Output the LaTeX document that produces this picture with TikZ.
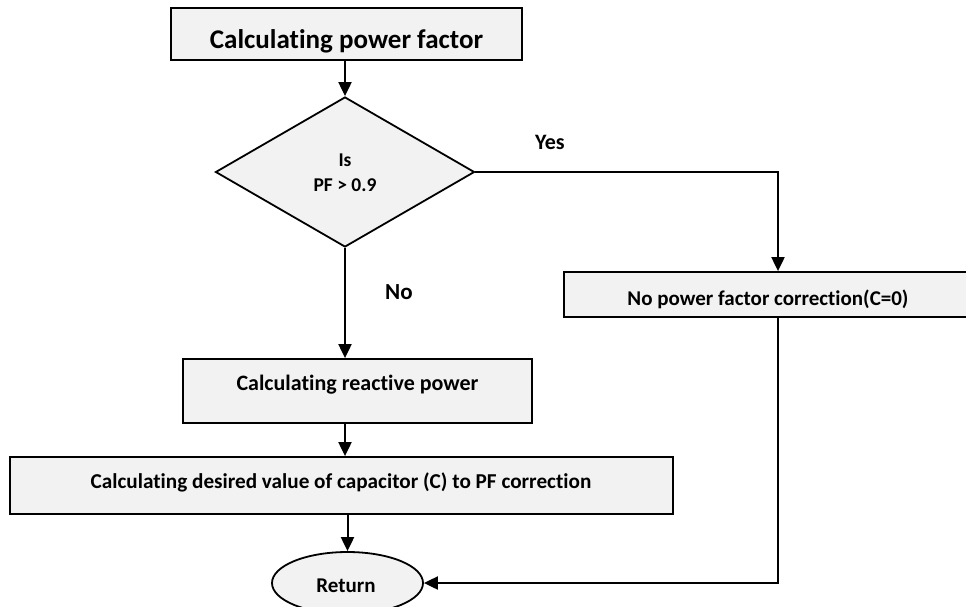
\documentclass[tikz,border=0pt]{standalone}
\usepackage{fontspec}
\setmainfont{Carlito}[Ligatures=NoCommon]
\usetikzlibrary{shapes.geometric,arrows.meta,calc}
\definecolor{boxgrey}{HTML}{F2F2F2}

\begin{document}
\begin{tikzpicture}[x=1pt,y=-1pt,
  box/.style={draw=black, fill=boxgrey, line width=1.8pt, rectangle, inner sep=0pt},
  lbl/.style={anchor=base, inner sep=0pt, font=\bfseries\fontsize{21}{25}\selectfont},
  big/.style={font=\bfseries\fontsize{27}{32}\selectfont},
  mid/.style={font=\bfseries\fontsize{22}{26}\selectfont},
  arr/.style={line width=2pt, -{Triangle[length=14pt,width=13pt]}}]

% page frame
\clip (0,0) rectangle (966,606);

% process boxes and decision
\node[box, minimum width=351pt, minimum height=52pt] (top) at (346.5,34) {};
\node[lbl, big] (topt) at (346.5,48) {Calculating power factor};

\node[box, diamond, minimum width=259pt, minimum height=150pt] (dec) at (345,172) {};
\node[lbl, font=\bfseries\fontsize{19.5}{23}\selectfont] (decq1) at (345,166) {Is};
\node[lbl, font=\bfseries\fontsize{19.5}{23}\selectfont] (decq2) at (345,191.5) {PF > 0.9};

\node[box, minimum width=428pt, minimum height=45pt] (fix) at (778,294.5) {};
\node[lbl] (fixt) at (768,305) {No power factor correction(C=0)};

\node[box, minimum width=349pt, minimum height=64pt] (react) at (357.5,391) {};
\node[lbl, mid] (reactt) at (357.5,390) {Calculating reactive power};

\node[box, minimum width=663pt, minimum height=57pt] (want) at (341.5,485.5) {};
\node[lbl, font=\bfseries\fontsize{21.2}{25}\selectfont] (wantt) at (341,488) {Calculating desired value of capacitor (C) to PF correction};

\node[box, ellipse, minimum width=151pt, minimum height=62pt] (ret) at (347.5,583) {};
\node[lbl] (rett) at (346,592) {Return};

% branch labels
\node[lbl, mid] (yes) at (550,149) {Yes};
\node[lbl, font=\bfseries\fontsize{23}{27}\selectfont] (no) at (399,299) {No};

% connectors
\draw[arr] (top.south -| dec.north) -- (dec.north);
\draw[arr] (dec.east) -| (fix.north);
\draw[arr] (dec.south) -- (dec.south |- react.north);
\draw[arr] (dec.south |- react.south) -- (dec.south |- want.north);
\draw[arr] (ret.north |- want.south) -- (ret.north);
\draw[arr] (fix.south) |- (ret.east);
\end{tikzpicture}
\end{document}
